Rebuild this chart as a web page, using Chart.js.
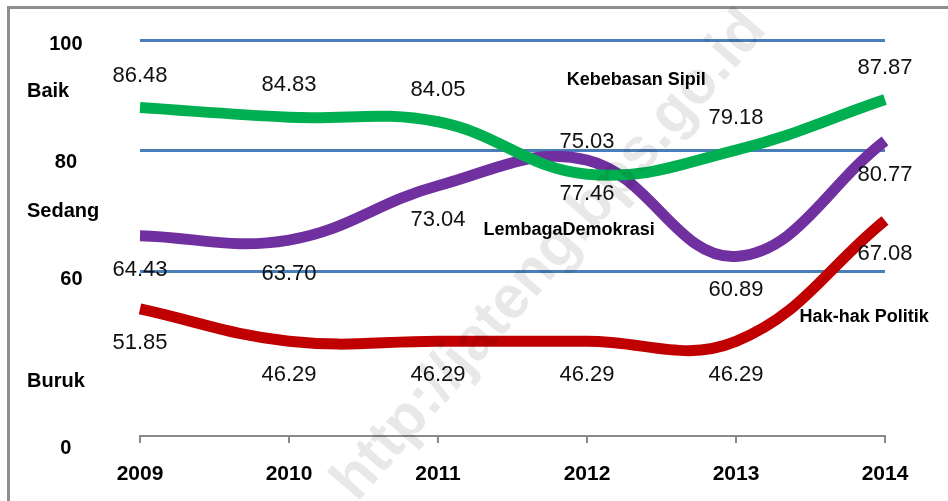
<!DOCTYPE html>
<html>
<head>
<meta charset="utf-8">
<title>Indeks Demokrasi Indonesia</title>
<script src="https://cdn.jsdelivr.net/npm/chart.js@4.4.1/dist/chart.umd.min.js"></script>
<style>
    html, body { margin: 0; padding: 0; background: #fff; overflow: hidden; }
    #wrap { position: relative; width: 948px; height: 501px; overflow: hidden; }
    #frame {
        position: absolute; left: 7px; top: 6px; right: -20px; bottom: -20px;
        border-top: 3px solid #8e8e8e; border-left: 3px solid #8e8e8e;
    }
    canvas { position: absolute; left: 0; top: 0; }
</style>
</head>
<body>
<div id="wrap">
    <div id="frame"></div>
    <canvas id="idiChart" width="948" height="501"></canvas>
</div>
<script>
const years = ["2009", "2010", "2011", "2012", "2013", "2014"];

const kebebasanSipil = [86.48, 84.83, 84.05, 75.03, 79.18, 87.87];
const lembagaDemokrasi = [64.43, 63.7, 73.04, 77.46, 60.89, 80.77];
const hakPolitik = [51.85, 46.29, 46.29, 46.29, 46.29, 67.08];

// y axis texts and the value each one sits at
const yTickLabels = ["100", "Baik", "80", "Sedang", "60", "Buruk", "0"];
const yTickValues = [97.3, 89.3, 77.1, 68.7, 56.9, 39.3, 30];

// the three blue category lines
const bandLines = [98.06, 79.14, 58.29];

document.addEventListener("DOMContentLoaded", function () {
    const canvas = document.getElementById("idiChart");
    const ctx = canvas.getContext("2d");

    // leading spaces push the numbers right of the words
    const numberIndent = { "100": 4, "80": 5, "60": 6, "0": 6 };

    const valueLabels = {
        id: "valueLabels",
        afterDatasetsDraw(chart) {
            const c = chart.ctx;
            c.save();
            c.font = "22px 'Liberation Sans', Arial, sans-serif";
            c.fillStyle = "#111";
            c.textAlign = "center";
            c.textBaseline = "middle";
            chart.data.datasets.forEach((ds, i) => {
                const dy = ds.valueSide === "above" ? -32 : 34;
                chart.getDatasetMeta(i).data.forEach((pt, j) => {
                    c.fillText(ds.data[j].toFixed(2), pt.x, pt.y + dy);
                });
            });
            c.restore();
        },
    };

    const seriesNames = {
        id: "seriesNames",
        afterDatasetsDraw(chart) {
            const c = chart.ctx;
            const xs = chart.scales.x;
            const ys = chart.scales.y;
            c.save();
            c.font = "bold 18px 'Liberation Sans', Arial, sans-serif";
            c.fillStyle = "#000";
            c.textAlign = "center";
            c.textBaseline = "middle";
            chart.data.datasets.forEach((ds) => {
                c.fillText(ds.label, xs.getPixelForValue(ds.nameAt[0]), ys.getPixelForValue(ds.nameAt[1]));
            });
            c.restore();
        },
    };

    const watermark = {
        id: "watermark",
        afterDraw(chart) {
            const c = chart.ctx;
            c.save();
            c.translate(550, 256);
            c.rotate(-49 * Math.PI / 180);
            c.font = "bold 60px 'Liberation Sans', Arial, sans-serif";
            c.fillStyle = "rgba(0, 0, 0, 0.09)";
            c.textAlign = "center";
            c.textBaseline = "middle";
            c.fillText("http://jateng.bps.go.id", 0, 0);
            c.restore();
        },
    };

    const lineStyle = {
        borderWidth: 11,
        pointRadius: 0,
        tension: 0.4,
        fill: false,
        borderJoinStyle: "round",
    };

    new Chart(ctx, {
        type: "line",
        data: {
            labels: years,
            datasets: [
                {
                    ...lineStyle,
                    label: "Kebebasan Sipil",
                    data: kebebasanSipil,
                    borderColor: "#00b050",
                    valueSide: "above",
                    nameAt: [3.33, 91.2],
                },
                {
                    ...lineStyle,
                    label: "LembagaDemokrasi",
                    data: lembagaDemokrasi,
                    borderColor: "#7030a0",
                    valueSide: "below",
                    nameAt: [2.88, 65.4],
                },
                {
                    ...lineStyle,
                    label: "Hak-hak Politik",
                    data: hakPolitik,
                    borderColor: "#c00000",
                    valueSide: "below",
                    nameAt: [4.86, 50.5],
                },
            ],
        },
        options: {
            responsive: false,
            animation: false,
            layout: { padding: { left: 27, top: 29, right: 63, bottom: 0 } },
            plugins: {
                legend: { display: false },
                tooltip: { enabled: false },
            },
            scales: {
                x: {
                    offset: false,
                    grid: {
                        drawOnChartArea: false,
                        drawTicks: true,
                        tickLength: 7,
                        color: "#8a8a8a",
                        lineWidth: 2,
                    },
                    border: { color: "#8a8a8a", width: 2 },
                    ticks: {
                        color: "#000",
                        padding: 19,
                        maxRotation: 0,
                        font: {
                            family: "'Liberation Sans', Arial, sans-serif",
                            size: 21,
                            weight: "bold",
                        },
                    },
                    afterFit: (scale) => { scale.height = 65; },
                },
                y: {
                    min: 30,
                    max: 100,
                    afterBuildTicks: (scale) => {
                        scale.ticks = [...yTickValues, ...bandLines]
                            .sort((a, b) => a - b)
                            .map((v) => ({ value: v }));
                    },
                    grid: {
                        drawTicks: false,
                        lineWidth: 3,
                        color: (c) => bandLines.includes(c.tick.value) ? "#4a7ebb" : "rgba(0,0,0,0)",
                    },
                    border: { display: false },
                    ticks: {
                        autoSkip: false,
                        crossAlign: "far",
                        padding: 0,
                        color: "#000",
                        font: {
                            family: "'Liberation Sans', Arial, sans-serif",
                            size: 20,
                            weight: "bold",
                        },
                        callback: function (value) {
                            const i = yTickValues.indexOf(value);
                            if (i < 0) return "";
                            const text = yTickLabels[i];
                            const pad = " ".repeat(numberIndent[text] || 0);
                            // "0" sits just under the axis line
                            return text === "0" ? ["", pad + text] : pad + text;
                        },
                    },
                    afterFit: (scale) => { scale.width = 113; },
                },
            },
        },
        plugins: [valueLabels, seriesNames, watermark],
    });
});
</script>
</body>
</html>
